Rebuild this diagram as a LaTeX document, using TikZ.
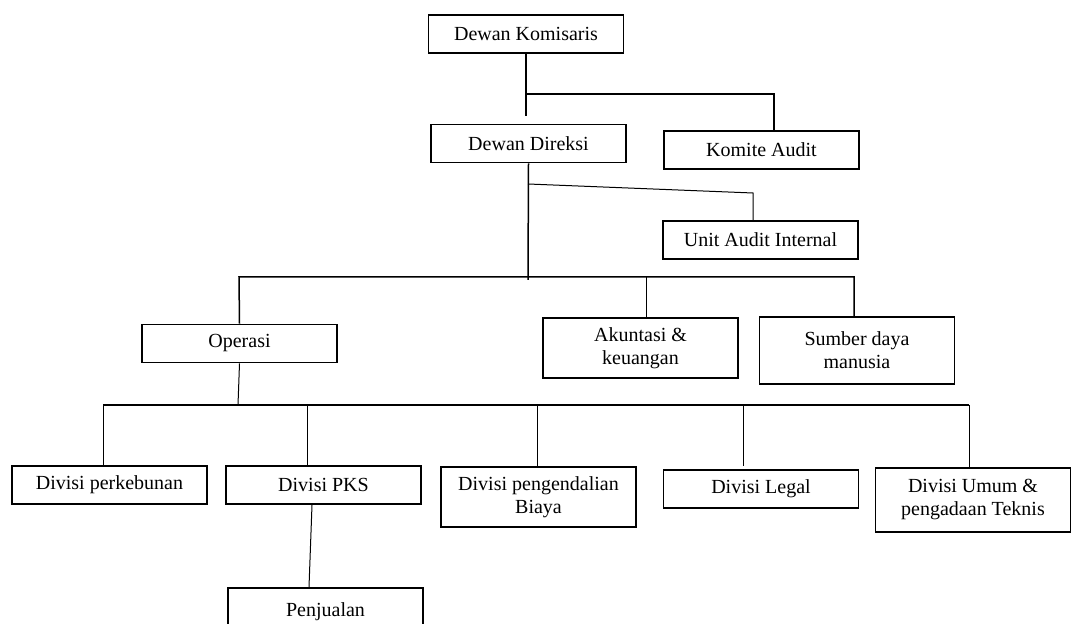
\documentclass[tikz,border=0pt]{standalone}
\usepackage{fontspec}
\setmainfont{Liberation Serif}
\usepackage{tikz}

\begin{document}
\begin{tikzpicture}[
  x=0.5pt, y=-0.5pt,
  blk/.style={draw, line width=0.9pt, minimum width=97.5pt, minimum height=19pt,
              inner sep=0pt, align=center, font=\fontsize{10}{11.5}\selectfont},
  ln/.style={line width=0.75pt},
  thn/.style={line width=0.5pt},
]
  \clip (0,0) rectangle (1071,624);

  \node[blk] (dk) at (526,34) {Dewan Komisaris};
  \node[blk] (dd) at (528.5,143.5) {Dewan Direksi};
  \node[blk] (ka) at (761.5,150) {Komite Audit};
  \node[blk] (uai) at (760.5,240) {Unit Audit Internal};

  \node[blk] (ops) at (239.5,343.5) {Operasi};
  \node[blk, minimum height=30pt] (aku) at (640.5,348) {Akuntasi \&\\keuangan};
  \node[blk, minimum height=33.5pt] (sdm) at (857,350.5) {Sumber daya\\manusia};

  \node[blk] (keb) at (109.5,485) {Divisi perkebunan};
  \node[blk] (pks) at (323.5,485) {Divisi PKS};
  \node[blk, minimum height=30pt] (biaya) at (538.5,497) {Divisi pengendalian\\Biaya};
  \node[blk] (legal) at (761,489) {Divisi Legal};
  \node[blk, minimum height=32pt] (umum) at (973,500) {Divisi Umum \&\\pengadaan Teknis};
  \node[blk, minimum height=24pt] (pjl) at (325.5,612) {Penjualan};

  \coordinate (dkend) at (526,116);
  \coordinate (kj) at (526,94);
  \coordinate (kt) at (774,94);
  \draw[ln] (dk.south) -- (dkend);
  \draw[ln] (kj) -- (kt) -- (kt |- ka.north);

  \coordinate (b2m) at (528,280);
  \coordinate (ua1) at (528,184);
  \coordinate (ua2) at (753,193);
  \draw[ln] (dd.south) -- (b2m);
  \draw[thn] (ua1) -- (ua2) -- (ua2 |- uai.north);

  \coordinate (b2l) at (239,277);
  \coordinate (b2a) at (646,277);
  \coordinate (b2r) at (854,277);
  \draw[ln] (ops.north) -- (b2l) -- (b2r) -- (b2r |- sdm.north);
  \draw[thn] (b2a) -- (b2a |- aku.north);

  \coordinate (b3o) at (238,405);
  \coordinate (b3l) at (103,405);
  \coordinate (b3p) at (307,405);
  \coordinate (b3b) at (537,405);
  \coordinate (b3g) at (743,405);
  \coordinate (b3r) at (969,405);
  \draw[thn] (ops.south) -- (b3o);
  \draw[ln] (b3l) -- (b3r);
  \draw[thn] (b3l) -- (b3l |- keb.north);
  \draw[thn] (b3p) -- (b3p |- pks.north);
  \draw[thn] (b3b) -- (b3b |- biaya.north);
  \draw[thn, shorten >=1.5pt] (b3g) -- (b3g |- legal.north);
  \draw[thn] (b3r) -- (b3r |- umum.north);
  \draw[thn] ([xshift=-5.75pt]pks.south) -- ([xshift=-8.25pt]pjl.north);
\end{tikzpicture}
\end{document}
